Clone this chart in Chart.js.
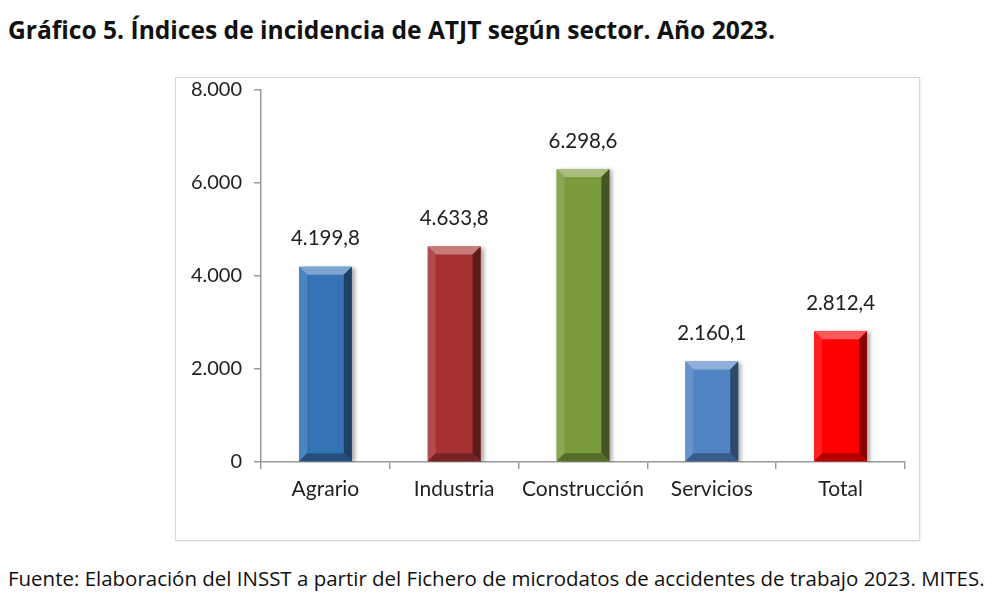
<!DOCTYPE html>
<html lang="es">
<head>
  <meta charset="UTF-8">
  <title>Gráfico 5. Índices de incidencia de ATJT según sector</title>
  <script src="https://cdn.jsdelivr.net/npm/chart.js"></script>
  <style>
    html, body { margin: 0; padding: 0; background: #fff; }
    body { width: 1000px; height: 600px; position: relative; overflow: hidden; font-family: Lato, 'Open Sans', sans-serif; }
    h1 {
      position: absolute; left: 8px; top: 30px; margin: 0; transform: translateY(-50%);
      font-family: 'Open Sans', sans-serif; font-size: 22px; font-weight: bold; color: #111;
      white-space: nowrap; line-height: 1;
    }
    .frame {
      position: absolute; left: 175px; top: 77px; width: 745px; height: 464px;
      border: 1px solid #d9d9d9; box-sizing: border-box;
      box-shadow: 1px 1px 2px rgba(0,0,0,0.08);
    }
    .frame canvas { display: block; }
    .fuente {
      position: absolute; left: 8px; top: 578px; margin: 0; transform: translateY(-50%);
      font-family: 'Open Sans', sans-serif; font-size: 17px; color: #111;
      white-space: nowrap; line-height: 1;
    }
  </style>
</head>
<body>
  <h1 id="titulo">Gráfico 5. Índices de incidencia de ATJT según sector. Año 2023.</h1>
  <div class="frame"><canvas id="chart" width="743" height="462"></canvas></div>
  <p class="fuente" id="fuente">Fuente: Elaboración del INSST a partir del Fichero de microdatos de accidentes de trabajo 2023. MITES.</p>

  <script>
    const sectores = ['Agrario', 'Industria', 'Construcción', 'Servicios', 'Total'];
    const indices = [4199.8, 4633.8, 6298.6, 2160.1, 2812.4];
    const colores = ['#3474b5', '#a83232', '#7a9b3b', '#5084c4', '#ff0000'];

    // ajusta el tamaño de letra para que el texto ocupe el ancho del original
    function fitWidth(el, target) {
      const fs = parseFloat(getComputedStyle(el).fontSize);
      el.style.fontSize = (fs * target / el.getBoundingClientRect().width) + 'px';
    }
    fitWidth(document.getElementById('titulo'), 767);
    fitWidth(document.getElementById('fuente'), 977);

    // formato español con separador de miles (también para 4 cifras)
    function fmt(v, dec) {
      const parts = v.toFixed(dec).split('.');
      parts[0] = parts[0].replace(/\B(?=(\d{3})+(?!\d))/g, '.');
      return parts.join(',');
    }

    function shade(hex, amt) {
      const n = parseInt(hex.slice(1), 16);
      let r = (n >> 16) & 255, g = (n >> 8) & 255, b = n & 255;
      const f = c => Math.max(0, Math.min(255, Math.round(amt > 0 ? c + (255 - c) * amt : c * (1 + amt))));
      return `rgb(${f(r)},${f(g)},${f(b)})`;
    }

    // bisel de las barras y etiquetas de valor
    const bevelPlugin = {
      id: 'bevel',
      afterDatasetsDraw(chart) {
        const ctx = chart.ctx;
        const meta = chart.getDatasetMeta(0);
        meta.data.forEach((bar, i) => {
          const { x, y, base, width } = bar.getProps(['x', 'y', 'base', 'width'], true);
          const l = x - width / 2, r = x + width / 2, b = base, t = y;
          const bv = 8;
          const c = colores[i];
          ctx.save();
          // cara superior
          ctx.fillStyle = shade(c, 0.35);
          ctx.beginPath();
          ctx.moveTo(l, t); ctx.lineTo(r, t); ctx.lineTo(r - bv, t + bv); ctx.lineTo(l + bv, t + bv); ctx.closePath();
          ctx.fill();
          // lado izquierdo
          ctx.fillStyle = shade(c, 0.12);
          ctx.beginPath();
          ctx.moveTo(l, t); ctx.lineTo(l + bv, t + bv); ctx.lineTo(l + bv, b - bv); ctx.lineTo(l, b); ctx.closePath();
          ctx.fill();
          // lado derecho
          ctx.fillStyle = shade(c, -0.45);
          ctx.beginPath();
          ctx.moveTo(r, t); ctx.lineTo(r - bv, t + bv); ctx.lineTo(r - bv, b - bv); ctx.lineTo(r, b); ctx.closePath();
          ctx.fill();
          // base
          ctx.fillStyle = shade(c, -0.3);
          ctx.beginPath();
          ctx.moveTo(l, b); ctx.lineTo(l + bv, b - bv); ctx.lineTo(r - bv, b - bv); ctx.lineTo(r, b); ctx.closePath();
          ctx.fill();
          // etiqueta
          ctx.fillStyle = '#222';
          ctx.font = '20.5px Lato, "Open Sans", sans-serif';
          ctx.textAlign = 'center';
          ctx.textBaseline = 'middle';
          ctx.fillText(fmt(indices[i], 1), x, t - 28);
          ctx.restore();
        });
      }
    };

    new Chart(document.getElementById('chart'), {
      type: 'bar',
      data: {
        labels: sectores,
        datasets: [{
          data: indices,
          backgroundColor: colores,
          categoryPercentage: 1,
          barPercentage: 0.41,
          borderWidth: 0
        }]
      },
      options: {
        responsive: false,
        animation: false,
        events: [],
        layout: { padding: { top: 12, right: 14, left: 0, bottom: 0 } },
        plugins: {
          legend: { display: false },
          tooltip: { enabled: false }
        },
        scales: {
          x: {
            grid: { display: true, drawOnChartArea: false, offset: true, tickLength: 7, color: '#9a9a9a', lineWidth: 1.5 },
            border: { color: '#9a9a9a', width: 1.5 },
            ticks: { color: '#222', font: { family: 'Lato', size: 21 }, padding: 8 },
            afterFit(s) { s.height = 78; s.paddingLeft = 0; s.paddingRight = 0; }
          },
          y: {
            min: 0, max: 8000,
            grid: { display: true, drawOnChartArea: false, tickLength: 7, color: '#9a9a9a', lineWidth: 1.5 },
            border: { color: '#9a9a9a', width: 1.5 },
            ticks: {
              stepSize: 2000, color: '#222', font: { family: 'Lato', size: 20 }, padding: 12,
              callback: v => fmt(v, 0)
            },
            afterFit(s) { s.width = 85; s.paddingTop = 0; s.paddingBottom = 0; }
          }
        }
      },
      plugins: [{
        id: 'sombra',
        beforeDatasetsDraw(chart) {
          const ctx = chart.ctx;
          ctx.save();
          ctx.shadowColor = 'rgba(0,0,0,0.35)';
          ctx.shadowBlur = 4;
          ctx.shadowOffsetX = 3;
          ctx.shadowOffsetY = 1;
        },
        afterDatasetsDraw(chart) { chart.ctx.restore(); }
      }, bevelPlugin]
    });
  </script>
</body>
</html>
